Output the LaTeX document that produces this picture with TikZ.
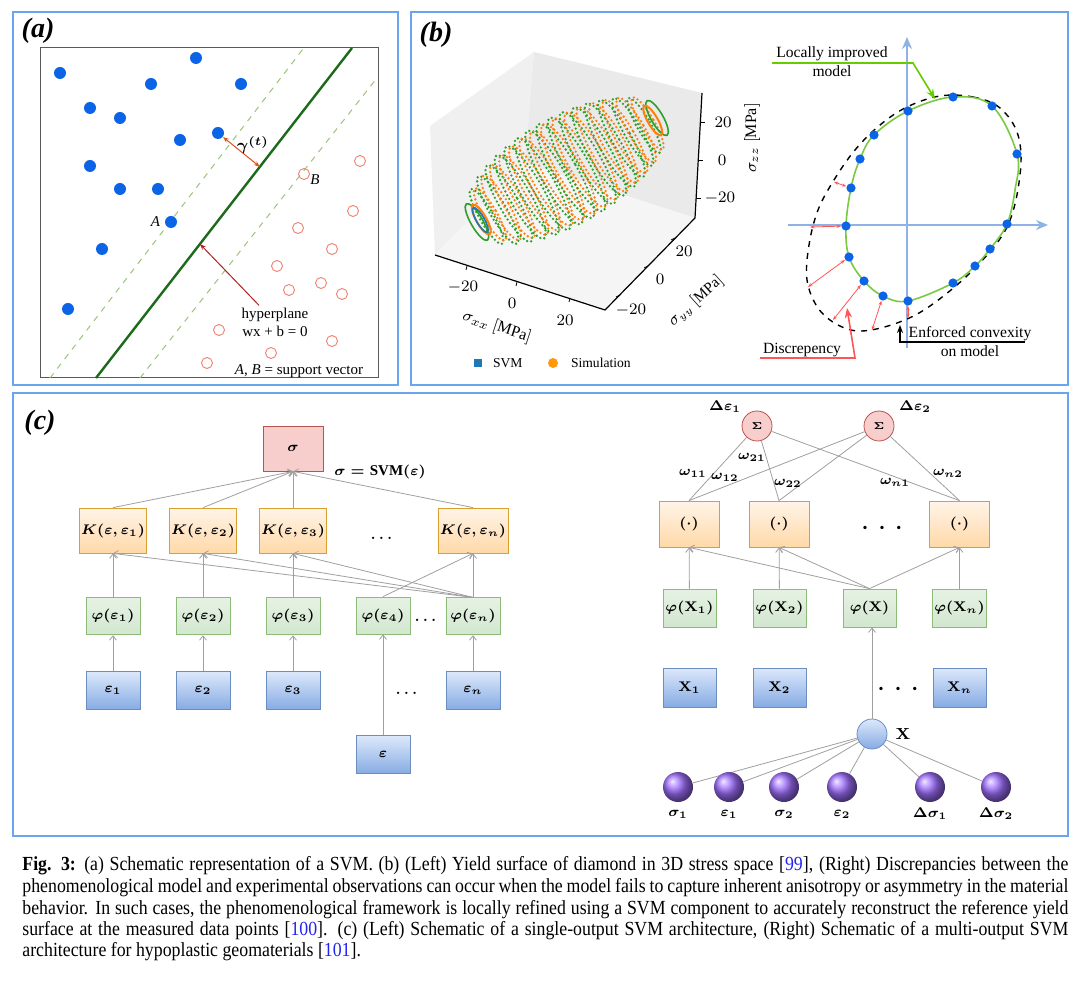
\documentclass[tikz,border=0pt]{standalone}
\usepackage{amsmath}
\usepackage{bm}
\usepackage{fontspec}
\setmainfont{Liberation Serif}
\newfontfamily\capfont[FakeStretch=0.89]{Liberation Serif}
\usetikzlibrary{arrows.meta,positioning,calc}

\definecolor{panelblue}{HTML}{6AA6EE}
\definecolor{dotblue}{HTML}{0B63E5}
\definecolor{ringred}{HTML}{F08070}
\definecolor{hypgreen}{HTML}{1B6B1B}
\definecolor{dashgreen}{HTML}{9CC47A}
\definecolor{gamred}{HTML}{E0521B}
\definecolor{arrred}{HTML}{B22222}
\definecolor{paneA}{HTML}{F0F0F0}
\definecolor{paneB}{HTML}{EAEAEA}
\definecolor{paneC}{HTML}{F5F5F5}
\definecolor{simgreen}{HTML}{2CA02C}
\definecolor{simorange}{HTML}{FF7F0E}
\definecolor{svmblue}{HTML}{1F77B4}
\definecolor{axisblue}{HTML}{8FB2E6}
\definecolor{curvegreen}{HTML}{7AC943}
\definecolor{discred}{HTML}{FF5555}
\definecolor{locgreen}{HTML}{66CC00}
\definecolor{ktop}{HTML}{FFF4E8}
\definecolor{kbot}{HTML}{FFD9A8}
\definecolor{kline}{HTML}{D9A030}
\definecolor{ftop}{HTML}{E6F2E4}
\definecolor{fbot}{HTML}{D2E7CF}
\definecolor{fline}{HTML}{8DBB78}
\definecolor{etop}{HTML}{DCE8FB}
\definecolor{ebot}{HTML}{86ABE3}
\definecolor{eline}{HTML}{6C8EBF}
\definecolor{sfill}{HTML}{F8CECC}
\definecolor{sline}{HTML}{B85450}
\definecolor{conngray}{HTML}{A0A0A0}
\definecolor{ballpurple}{HTML}{A070FF}
\definecolor{citeblue}{HTML}{2222EE}

\begin{document}
\begin{tikzpicture}[x=0.5pt, y=-0.5pt,
    panel/.style={draw=panelblue, line width=0.9pt},
    plab/.style={font=\fontsize{14}{16}\selectfont\bfseries\itshape, inner sep=0pt},
    small/.style={font=\fontsize{7.5}{9}\selectfont, inner sep=1pt},
    tick/.style={font=\fontsize{8}{9}\selectfont, inner sep=1pt},
    bdot/.style={circle, fill=dotblue, inner sep=0pt, minimum size=6pt},
    odot/.style={circle, draw=ringred, inner sep=0pt, minimum size=5.5pt, line width=0.45pt},
    pdot/.style={circle, fill=dotblue, inner sep=0pt, minimum size=4.6pt},
    ring/.style={line width=1.3pt, dash pattern=on 0pt off 2.1pt, line cap=round},
    net/.style={font=\fontsize{7.5}{9}\selectfont\boldmath, inner sep=1pt},
    kbox/.style={net, draw=kline, top color=ktop, bottom color=kbot, minimum width=30pt, minimum height=22.5pt},
    fbox/.style={net, draw=fline, top color=ftop, bottom color=fbot, minimum width=27pt, minimum height=18.5pt},
    ebox/.style={net, draw=eline, top color=etop, bottom color=ebot, minimum width=27pt, minimum height=19pt},
    sbox/.style={net, draw=sline, fill=sfill, minimum width=30pt, minimum height=22.5pt},
    snode/.style={circle, draw=sline, fill=sfill, inner sep=0pt, minimum size=15pt, font=\fontsize{5.5}{6}\selectfont\boldmath},
    ball/.style={circle, inner sep=0pt, minimum size=15pt, ball color=ballpurple},
    conn/.style={draw=conngray, line width=0.4pt},
    arrow/.style={conn, -{Straight Barb[length=2.2pt,width=3.5pt]}},
    disc/.style={draw=discred, line width=0.4pt, {Stealth[length=2.2pt]}-{Stealth[length=2.2pt]}},
    caption/.style={font=\capfont\fontsize{10}{11}\selectfont, anchor=base west, inner sep=0pt}
]

\useasboundingbox[fill=white] (0,0) rectangle (1080,983);

% ---------- (a) ----------
\draw[panel] (13,12) rectangle (398,385);
\node[plab] (labA) at (38,31) {(a)};
\draw[gray!70!black, line width=0.5pt] (40,48) rectangle (378,378);

\coordinate (h0) at (96,378);
\coordinate (h1) at (352,48);
\draw[dashgreen, dashed, line width=0.5pt] (50,378) -- (303,49);
\draw[dashgreen, dashed, line width=0.5pt] (140,378) -- (377,78);
\draw[hypgreen, line width=1.2pt] (h0) -- (h1);

\foreach \x/\y [count=\i] in {60/73, 196/58, 151/84, 241/84, 90/108, 120/118, 180/140, 218/133, 90/166, 120/189, 158/189, 171/222, 102/249, 68/309}
    \node[bdot] (a\i) at (\x,\y) {};

\foreach \x/\y [count=\i] in {360/161, 304/174, 353/211, 298/228, 332/249, 277/266, 321/283, 289/290, 342/294, 219/330, 332/341, 271/353, 207/363}
    \node[odot] (r\i) at (\x,\y) {};

\node[small, left=1pt of a12] (svA) {\textit{A}};
\node[small] (svB) at (315,180) {\textit{B}};

\coordinate (g1) at ($(h0)!0.64!(h1)$);
\draw[gamred, line width=0.5pt, {Stealth[length=3pt]}-{Stealth[length=3pt]}] (a8) -- (g1);
\node[font=\fontsize{8.5}{9}\selectfont] (gam) at (253,145) {$\bm{\gamma^{(t)}}$};

\node[small, align=center] (hyplab) at (275,322) {hyperplane\\wx + b = 0};
\coordinate (g2) at ($(h0)!0.406!(h1)$);
\draw[arrred, line width=0.5pt, -{Stealth[length=3pt]}] ([xshift=-8pt]hyplab.north) -- (g2);

\node[small] (sv) at (299,371) {\textit{A}, \textit{B} = support vector};

% ---------- (b) ----------
\draw[panel] (411,12) rectangle (1068,385);
\node[plab] (labB) at (436,35) {(b)};

% 3D axes box
\fill[paneA] (435,255) -- (430,126) -- (534,52) -- (525,163) -- cycle;
\fill[paneB] (525,163) -- (534,52) -- (702,93) -- (695,218) -- cycle;
\fill[paneC] (435,255) -- (525,163) -- (695,218) -- (605,310) -- cycle;
\draw[black, line width=0.6pt] (435,255) -- (605,310) -- (695,218) -- (702,93);

\foreach \x/\y in {467/266, 517/282, 570/298}
    \draw[line width=0.4pt] (\x,\y) -- ++(-1,4);
\node[tick] (xt1) at (463,287) {$-20$};
\node[tick] (xt2) at (512,303) {$0$};
\node[tick] (xt3) at (565,320) {$20$};
\node[tick, rotate=-18] (xlab) at (497,327) {$\sigma_{xx}\ [\mathrm{MPa}]$};

\foreach \x/\y in {620/295, 648/266, 675/238}
    \draw[line width=0.4pt] (\x,\y) -- ++(-4,2);
\node[tick] (yt1) at (631,310) {$-20$};
\node[tick] (yt2) at (660,279) {$0$};
\node[tick] (yt3) at (684,251) {$20$};
\node[tick, font=\fontsize{7.6}{9}\selectfont, rotate=42] (ylab) at (696,301) {$\sigma_{yy}\ [\mathrm{MPa}]$};

\foreach \y in {122, 160, 198}
    \draw[line width=0.4pt] ({695+(218-\y)*0.056},\y) -- ++(5,0);
\node[tick] (zt1) at (723,122) {$20$};
\node[tick] (zt2) at (722,160) {$0$};
\node[tick] (zt3) at (720,198) {$-20$};
\node[tick, rotate=90] (zlab) at (752,138) {$\sigma_{zz}\ [\mathrm{MPa}]$};

% rings of the yield surface
\begin{scope}[shift={(567,170)}, rotate=30]
    \foreach \t in {-91,-78,...,91} {
        \pgfmathsetmacro{\r}{54*sqrt(1-(\t/112)^2)}
        \draw[ring, draw=simgreen] (\t-2,0) ellipse [x radius=0.22*\r, y radius=\r];
        \draw[ring, draw=simorange] (\t+2,0) ellipse [x radius=0.22*\r, y radius=0.95*\r];
    }
    \draw[simgreen, line width=0.8pt] (-104,0) ellipse [x radius=6, y radius=21];
    \draw[simorange, line width=1pt] (-99,0) ellipse [x radius=5, y radius=17];
    \draw[svmblue, line width=0.8pt] (-100,0) ellipse [x radius=4, y radius=14];
    \draw[simgreen, line width=0.8pt] (104,0) ellipse [x radius=6, y radius=20];
    \draw[simorange, line width=1pt] (99,0) ellipse [x radius=5, y radius=17];
\end{scope}

\node[fill=svmblue, inner sep=0pt, minimum size=4pt] (legS) at (478,363) {};
\node[font=\fontsize{6.8}{8}\selectfont, anchor=west] (legSt) at (486,363) {SVM};
\node[circle, fill=simorange!80!yellow, inner sep=0pt, minimum size=5pt] (legO) at (553,363) {};
\node[font=\fontsize{6.8}{8}\selectfont, anchor=west] (legOt) at (564,363) {Simulation};

% 2D sketch
\draw[axisblue, line width=0.8pt, -{Stealth[length=6pt,width=5pt]}] (907,348) -- (907,37);
\draw[axisblue, line width=0.8pt, -{Stealth[length=6pt,width=5pt]}] (788,225) -- (1048,225);

\draw[black, dashed, line width=0.7pt] plot[smooth cycle, tension=0.6] coordinates {(940,96) (973,97) (1000,108) (1018,135) (1020,175) (1007,227) (973,270) (930,306) (897,323) (862,331) (838,325) (818,308) (807,280) (809,245) (818,210) (834,180) (855,150) (880,125) (907,107)};
\draw[curvegreen, line width=0.8pt] plot[smooth cycle, tension=0.6] coordinates {(953,97) (992,106) (1017,154) (1015,190) (1007,224) (990,249) (975,266) (953,283) (908,301) (883,296) (864,281) (849,257) (846,226) (851,188) (860,159) (874,135) (908,111)};

\foreach \x/\y [count=\i] in {953/97, 992/106, 1017/154, 1007/224, 990/249, 975/266, 953/283, 908/301, 883/296, 864/281, 849/257, 846/226, 851/188, 860/159, 874/135, 908/111}
    \node[pdot] (p\i) at (\x,\y) {};

\foreach \x/\y [count=\i] in {834/182, 810/227, 808/287, 833/320, 872/330, 908/318}
    \coordinate (d\i) at (\x,\y);
\draw[disc] (p13) -- (d1);
\draw[disc] (p12) -- (d2);
\draw[disc] (p11) -- (d3);
\draw[disc] (p10) -- (d4);
\draw[disc] (p9) -- (d5);
\draw[disc] (p8) -- (d6);

\node[font=\fontsize{7.8}{9.5}\selectfont, align=center] (loc) at (832,62) {Locally improved\\model};
\coordinate (locL) at (772,63);
\coordinate (locR) at (913,63);
\coordinate (locT) at (935,99);
\draw[locgreen, line width=0.8pt, -{Stealth[length=5pt]}] (locL) -- (locR) -- (locT);

\node[font=\fontsize{7.8}{9}\selectfont] (discl) at (802,350) {Discrepency};
\coordinate (discA) at (760,358);
\coordinate (discB) at (855,358);
\coordinate (discT) at (847,308);
\draw[discred, line width=0.8pt, -{Stealth[length=5pt]}] (discA) -- (discB) -- (discT);

\node[font=\fontsize{7.8}{9.5}\selectfont, align=center] (conv) at (970,342) {Enforced convexity\\on model};
\coordinate (convA) at (1025,342);
\coordinate (convB) at (900,342);
\coordinate (convT) at (900,325);
\draw[black, line width=0.7pt, -{Stealth[length=4pt]}] (convA) -- (convB) -- (convT);

% ---------- (c) ----------
\draw[panel] (13,393) rectangle (1068,836);
\node[plab] (labC) at (40,423) {(c)};

% single output
\node[sbox] (sig) at (293,448.5) {$\sigma$};
\node[net] (svm) at (380,472) {$\sigma=\mathrm{SVM}(\varepsilon)$};

\node[kbox] (K1) at (113,530.5) {$K(\varepsilon,\varepsilon_1)$};
\node[kbox] (K2) at (203,530.5) {$K(\varepsilon,\varepsilon_2)$};
\node[kbox] (K3) at (293,530.5) {$K(\varepsilon,\varepsilon_3)$};
\node[kbox] (Kn) at (473,530.5) {$K(\varepsilon,\varepsilon_n)$};
\node[net] (Kdots) at (383,538) {$\dots$};

\node[fbox, below=22pt of K1] (phi1) {$\varphi(\varepsilon_1)$};
\node[fbox, below=22pt of K2] (phi2) {$\varphi(\varepsilon_2)$};
\node[fbox, below=22pt of K3] (phi3) {$\varphi(\varepsilon_3)$};
\node[fbox, below=22pt of Kn] (phin) {$\varphi(\varepsilon_n)$};
\node[fbox] (phi4) at (383,615.5) {$\varphi(\varepsilon_4)$};
\node[net] (phidots) at (427,620) {$\dots$};

\node[ebox, below=18pt of phi1] (e1) {$\varepsilon_1$};
\node[ebox, below=18pt of phi2] (e2) {$\varepsilon_2$};
\node[ebox, below=18pt of phi3] (e3) {$\varepsilon_3$};
\node[ebox, below=18pt of phin] (en) {$\varepsilon_n$};
\node[net] (edots) at (408,693) {$\dots$};
\node[ebox, below=50.5pt of phi4] (eps) {$\varepsilon$};

\foreach \i in {1,2,3,n} {
    \draw[arrow] (e\i) -- (phi\i);
    \draw[arrow] (phi\i) -- (K\i);
    \draw[arrow] (K\i.north) -- (sig.south);
}
\draw[arrow] (eps) -- (phi4);
\foreach \i in {1,2,3}
    \draw[arrow] (phin.north) -- (K\i.south);
\draw[arrow] (phi4.north) -- (Kn.south);

% multi output
\node[snode] (S1) at (757,426) {$\Sigma$};
\node[snode] (S2) at (879,426) {$\Sigma$};
\node[net] (de1) at (725,407) {$\Delta\varepsilon_1$};
\node[net] (de2) at (915,407) {$\Delta\varepsilon_2$};

\node[kbox, minimum height=23pt] (D1) at (689,524) {$(\cdot)$};
\node[kbox, minimum height=23pt] (D2) at (779,524) {$(\cdot)$};
\node[kbox, minimum height=23pt] (Dn) at (959.5,524) {$(\cdot)$};
\node[net, font=\fontsize{11}{12}\selectfont\boldmath] (Ddots) at (882,528) {$\cdot\,\cdot\,\cdot$};

\foreach \j in {1,2} {
    \draw[conn] (S\j) -- (D1.north);
    \draw[conn] (S\j) -- (D2.north);
    \draw[conn] (S\j) -- (Dn.north);
}
\node[net] (w11) at (693,473) {$\omega_{11}$};
\node[net] (w12) at (725,477) {$\omega_{12}$};
\node[net] (w21) at (752,457) {$\omega_{21}$};
\node[net] (w22) at (788,483) {$\omega_{22}$};
\node[net] (wn1) at (895,482) {$\omega_{n1}$};
\node[net] (wn2) at (948,473) {$\omega_{n2}$};

\node[fbox, minimum width=26.5pt, minimum height=19pt] (F1) at (689.5,608) {$\varphi(\mathbf{X}_1)$};
\node[fbox, minimum width=26.5pt, minimum height=19pt] (F2) at (779.5,608) {$\varphi(\mathbf{X}_2)$};
\node[fbox, minimum width=26.5pt, minimum height=19pt] (F) at (869.5,608) {$\varphi(\mathbf{X})$};
\node[fbox, minimum width=26.5pt, minimum height=19pt] (Fn) at (959.5,608) {$\varphi(\mathbf{X}_n)$};

\draw[arrow] (F1) -- (D1);
\draw[arrow] (F2) -- (D2);
\draw[arrow] (Fn) -- (Dn);
\draw[arrow] (F.north) -- (D1.south);
\draw[arrow] (F.north) -- (D2.south);
\draw[arrow] (F.north) -- (Dn.south);

\node[ebox, minimum width=26.5pt, minimum height=19.5pt] (X1) at (689.5,687.5) {$\mathbf{X}_1$};
\node[ebox, minimum width=26.5pt, minimum height=19.5pt] (X2) at (779.5,687.5) {$\mathbf{X}_2$};
\node[ebox, minimum width=26.5pt, minimum height=19.5pt] (Xn) at (959.5,687.5) {$\mathbf{X}_n$};
\node[net, font=\fontsize{11}{12}\selectfont\boldmath] (Xdots) at (898,689) {$\cdot\,\cdot\,\cdot$};

\node[circle, draw=eline, top color=etop, bottom color=ebot, inner sep=0pt, minimum size=15pt] (Xc) at (872,734) {};
\node[net, font=\fontsize{8}{9}\selectfont\boldmath] (Xlab) at (903,734) {$\mathbf{X}$};
\draw[arrow] (Xc) -- (Xc |- F.south);

\foreach \x/\lab [count=\i] in {678/\sigma_1, 729/\varepsilon_1, 784/\sigma_2, 842/\varepsilon_2, 930/\Delta\sigma_1, 996/\Delta\sigma_2} {
    \node[ball] (b\i) at (\x,787) {};
    \node[net] (bl\i) at (\x,814) {$\lab$};
    \draw[conn] (b\i) -- (Xc);
}

% ---------- caption ----------
\node[caption] (cap1) at (22,870) {\makebox[523pt][s]{\textbf{Fig. 3:} (a) Schematic representation of a SVM. (b) (Left) Yield surface of diamond in 3D stress space [\textcolor{citeblue}{99}], (Right) Discrepancies between the}};
\node[caption] (cap2) at (22,892) {\makebox[523pt][s]{phenomenological model and experimental observations can occur when the model fails to capture inherent anisotropy or asymmetry in the material}};
\node[caption] (cap3) at (22,914) {\makebox[523pt][s]{behavior. In such cases, the phenomenological framework is locally refined using a SVM component to accurately reconstruct the reference yield}};
\node[caption] (cap4) at (22,935) {\makebox[523pt][s]{surface at the measured data points [\textcolor{citeblue}{100}]. (c) (Left) Schematic of a single-output SVM architecture, (Right) Schematic of a multi-output SVM}};
\node[caption] (cap5) at (22,956) {architecture for hypoplastic geomaterials [\textcolor{citeblue}{101}].};

\end{tikzpicture}
\end{document}
